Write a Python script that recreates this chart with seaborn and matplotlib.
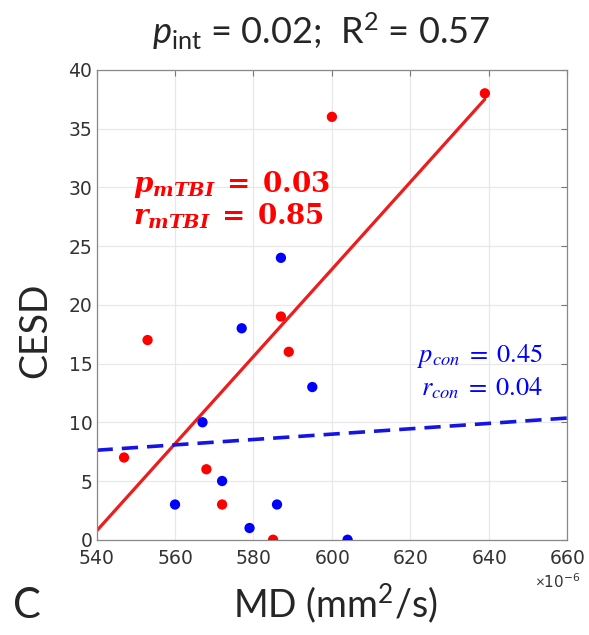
import numpy as np
import pandas as pd
import matplotlib
matplotlib.use("Agg")
import matplotlib.pyplot as plt
import matplotlib.ticker as mticker
import seaborn as sns

# MD in units of 1e-6 mm^2/s, CESD score
mtbi_md = [547, 553, 568, 572, 585, 587, 589, 600, 639]
mtbi_cesd = [7, 17, 6, 3, 0, 19, 16, 36, 38]
con_md = [560, 567, 572, 577, 579, 586, 587, 595, 604]
con_cesd = [3, 10, 5, 18, 1, 3, 24, 13, 0]

# fitted lines
mtbi_fit_md = [540, 639]
mtbi_fit_cesd = [0.75, 37.5]
con_fit_md = [540, 660]
con_fit_cesd = [7.62, 10.36]

xticks = [540, 560, 580, 600, 620, 640, 660]
yticks = [0, 5, 10, 15, 20, 25, 30, 35, 40]

title_txt = r"$p_{\mathrm{int}}$ = 0.02;  R$^{2}$ = 0.57"
mtbi_txt = [r"$\mathbfit{p_{mTBI}}\;\mathbf{=}\;\mathbf{0.03}$", r"$\mathbfit{r_{mTBI}}\;\mathbf{=}\;\mathbf{0.85}$"]
con_txt = [r"$p_{con}\;=\;0.45$", r"$r_{con}\;=\;0.04$"]

sns.set_style("white")
plt.rcParams['font.family'] = ['DejaVu Sans']
plt.rcParams['mathtext.fontset'] = 'custom'
plt.rcParams['mathtext.rm'] = 'Lato'
plt.rcParams['mathtext.it'] = 'Lato:italic'
plt.rcParams['mathtext.bf'] = 'Lato:bold'

df = pd.DataFrame({
    'MD': np.array(mtbi_md + con_md) * 1e-6,
    'CESD': mtbi_cesd + con_cesd,
    'group': ['mTBI'] * len(mtbi_md) + ['con'] * len(con_md),
})

red = '#ff0000'
blue = '#0000ff'

fig = plt.figure(figsize=(5.89, 6.35), dpi=100)
ax = fig.add_axes([0.164, 0.150, 0.799, 0.740])

sns.lineplot(x=np.array(mtbi_fit_md) * 1e-6, y=mtbi_fit_cesd, color='#ee1c1c', lw=2.3, ax=ax, zorder=2)
sns.lineplot(x=np.array(con_fit_md) * 1e-6, y=con_fit_cesd, color='#1414e6', lw=2.6,
             linestyle=(0, (4.5, 2.5)), ax=ax, zorder=2)
sns.scatterplot(data=df, x='MD', y='CESD', hue='group', palette={'mTBI': red, 'con': blue},
                s=55, edgecolor='none', legend=False, ax=ax, zorder=3)

ax.set_xlim(540e-6, 660e-6)
ax.set_ylim(0, 40)
ax.set_xticks(np.array(xticks) * 1e-6)
ax.set_yticks(yticks)
fmt = mticker.ScalarFormatter(useMathText=True)
fmt.set_powerlimits((-6, -6))
ax.xaxis.set_major_formatter(fmt)
off = ax.xaxis.get_offset_text()
off.set_fontsize(11)
off.set_color('#555555')
off.set_horizontalalignment('center')
off.set_x(0.98)

ax.grid(True, color='#e8e8e8', lw=0.9)
ax.set_axisbelow(True)
for sp in ax.spines.values():
    sp.set_color('#888888')
    sp.set_linewidth(0.9)
ax.tick_params(direction='in', top=True, right=True, length=4, width=0.8, color='#777777',
               labelcolor='#333333', labelsize=13.5, pad=3)
ax.tick_params(axis='x', pad=7)
ax.set_xlabel('')
ax.set_ylabel('')

fig.text(0.545, 0.950, title_txt, ha='center', va='center', fontsize=26, family='Lato')
fig.text(0.06, 0.48, 'CESD', rotation=90, ha='center', va='center', fontsize=27, family='Lato')
fig.text(0.57, 0.05, 'MD (mm$^{2}$/s)', ha='center', va='center', fontsize=27, family='Lato')
fig.text(0.045, 0.045, 'C', ha='center', va='center', fontsize=30, family='Lato')

ax.text(0.078, 0.755, mtbi_txt[0], transform=ax.transAxes, color=red, fontsize=20,
        math_fontfamily='dejavuserif', ha='left', va='center')
ax.text(0.078, 0.688, mtbi_txt[1], transform=ax.transAxes, color=red, fontsize=20,
        math_fontfamily='dejavuserif', ha='left', va='center')
ax.text(0.949, 0.39, con_txt[0], transform=ax.transAxes, color=blue, fontsize=19,
        math_fontfamily='stix', ha='right', va='center')
ax.text(0.949, 0.322, con_txt[1], transform=ax.transAxes, color=blue, fontsize=19,
        math_fontfamily='stix', ha='right', va='center')

fig.savefig('out.png', dpi=100)
